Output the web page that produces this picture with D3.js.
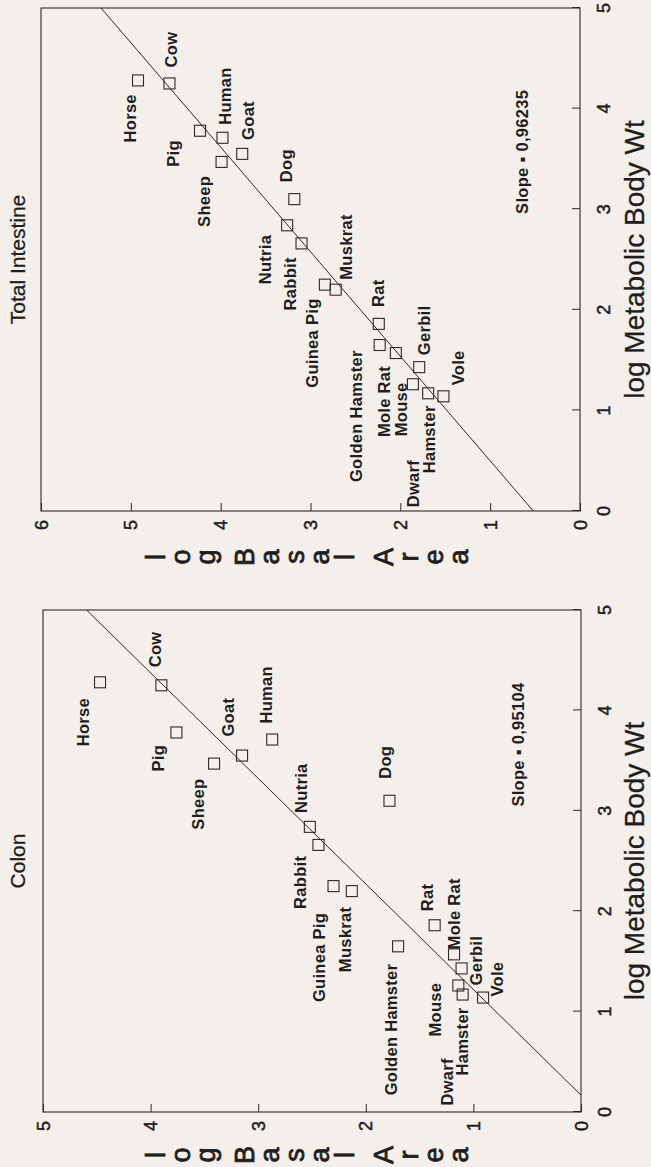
<!DOCTYPE html>
<html>
<head>
<meta charset="utf-8">
<script src="https://cdn.jsdelivr.net/npm/d3@7"></script>
<style>
  html, body { margin: 0; padding: 0; background: #f4efea; }
  svg { display: block; }
  text { font-family: "Liberation Sans", Arial, Helvetica, sans-serif; fill: #1e1e1e; }
</style>
</head>
<body>
<svg id="chart" width="651" height="1167"></svg>
<script>
// ---------------- DATA ----------------
const animals = ["Horse","Cow","Pig","Sheep","Goat","Human","Dog","Nutria","Rabbit",
  "Guinea Pig","Muskrat","Rat","Golden Hamster","Mole Rat","Gerbil","Mouse","Dwarf Hamster","Vole"];
const logMetabolicBodyWt = [4.28,4.25,3.78,3.47,3.55,3.71,3.10,2.84,2.66,2.25,2.20,1.86,1.65,1.57,1.43,1.26,1.17,1.14];
const colonLogBasalArea = [4.47,3.90,3.76,3.41,3.15,2.87,1.78,2.52,2.44,2.30,2.13,1.36,1.70,1.18,1.11,1.14,1.10,0.91];
const intestineLogBasalArea = [4.92,4.57,4.23,3.99,3.76,3.98,3.18,3.26,3.10,2.84,2.72,2.24,2.23,2.05,1.79,1.86,1.69,1.52];
const xTicks = [0,1,2,3,4,5];
const colonYTicks = [0,1,2,3,4,5];
const intestineYTicks = [0,1,2,3,4,5,6];
const colonFit = {slope: 0.95104, intercept: -0.16};
const intestineFit = {slope: 0.96235, intercept: 0.52};
const colonSlopeText = "Slope \u25AA 0,95104";
const intestineSlopeText = "Slope \u25AA 0,96235";
const xTitle = "log Metabolic Body Wt";
const yTitle = "log Basal Area";

// ---------------- LAYOUT (label placement, px offsets from point) ----------------
const colonLabelOffsets = {
  "Horse":[[-64,-11]], "Cow":[[18,0]], "Pig":[[-39,-12]], "Sheep":[[-66,-10]], "Goat":[[19,-8]],
  "Human":[[16,0]], "Dog":[[22,2]], "Nutria":[[14,-3]], "Rabbit":[[-64,-12]], "Guinea Pig":[[-116,-9]],
  "Muskrat":[[-81,-1]], "Rat":[[14,-2]], "Golden Hamster":[[-149,-1]], "Mole Rat":[[5,6]],
  "Gerbil":[[-17,20]], "Mouse":[[-51,-17]], "Dwarf Hamster":[[-111,-10],[-81,5]], "Vole":[[1,20]]
};
const intestineLabelOffsets = {
  "Horse":[[-62,-2]], "Cow":[[16,8]], "Pig":[[-36,-21]], "Sheep":[[-65,-12]], "Goat":[[14,12]],
  "Human":[[13,9]], "Dog":[[17,-2]], "Nutria":[[-59,-16]], "Rabbit":[[-67,-6]], "Guinea Pig":[[-103,-7]],
  "Muskrat":[[10,16]], "Rat":[[17,5]], "Golden Hamster":[[-137,-18]], "Mole Rat":[[-84,-6]],
  "Gerbil":[[12,11]], "Mouse":[[-52,-6]], "Dwarf Hamster":[[-114,-9],[-80,7]], "Vole":[[11,21]]
};

const svg = d3.select("#chart");
// the whole page is rotated a quarter turn counter-clockwise
const root = svg.append("g").attr("transform", "translate(0,1167) rotate(-90)");

function panel(opt) {
  const g = root.append("g");
  const x = d3.scaleLinear().domain([0, 5]).range([opt.left, opt.right]);
  const y = d3.scaleLinear().domain([0, opt.yMax]).range([opt.bottom, opt.top]);
  const ink = "#2a2a2a";

  // frame
  g.append("rect").attr("x", opt.left).attr("y", opt.top)
    .attr("width", opt.right - opt.left).attr("height", opt.bottom - opt.top)
    .attr("fill", "none").attr("stroke", ink).attr("stroke-width", 1.1);

  // x axis (ticks inward, labels drawn separately)
  const xa = g.append("g").attr("transform", `translate(0,${opt.bottom})`)
    .call(d3.axisBottom(x).tickValues(xTicks).tickSizeInner(-8).tickSizeOuter(0).tickFormat(() => ""));
  xa.select(".domain").remove();
  xa.selectAll("line").attr("stroke", ink);
  g.append("g").selectAll("text").data(xTicks).join("text")
    .attr("x", d => x(d)).attr("y", opt.bottom + 30)
    .attr("text-anchor", "middle").attr("font-size", 18)
    .attr("stroke", "#1e1e1e").attr("stroke-width", 0.5).text(d => d);

  // y axis (ticks inward, labels drawn separately)
  const ya = g.append("g").attr("transform", `translate(${opt.left},0)`)
    .call(d3.axisLeft(y).tickValues(opt.yTicks).tickSizeInner(-8).tickSizeOuter(0).tickFormat(() => ""));
  ya.select(".domain").remove();
  ya.selectAll("line").attr("stroke", ink);
  g.append("g").selectAll("text").data(opt.yTicks).join("text")
    .attr("x", opt.left - 9).attr("y", d => y(d) + 6.5)
    .attr("text-anchor", "end").attr("font-size", 18)
    .attr("stroke", "#1e1e1e").attr("stroke-width", 0.5).text(d => d);

  // clip for regression line
  const clipId = "clip-" + opt.id;
  g.append("clipPath").attr("id", clipId).append("rect")
    .attr("x", opt.left).attr("y", opt.top).attr("width", opt.right - opt.left).attr("height", opt.bottom - opt.top);

  const fitPts = [0, 5].map(v => [v, opt.fit.slope * v + opt.fit.intercept]);
  g.append("path").attr("clip-path", `url(#${clipId})`)
    .attr("d", d3.line().x(d => x(d[0])).y(d => y(d[1]))(fitPts))
    .attr("fill", "none").attr("stroke", ink).attr("stroke-width", 1);

  // points
  const data = animals.map((name, i) => ({name, x: logMetabolicBodyWt[i], y: opt.values[i]}));
  const s = 11;
  g.selectAll("rect.pt").data(data).join("rect").attr("class", "pt")
    .attr("x", d => x(d.x) - s / 2).attr("y", d => y(d.y) - s / 2)
    .attr("width", s).attr("height", s)
    .attr("fill", "none").attr("stroke", ink).attr("stroke-width", 1.1);

  // labels
  data.forEach(d => {
    const parts = d.name === "Dwarf Hamster" ? ["Dwarf", "Hamster"] : [d.name];
    const offs = opt.labelOffsets[d.name];
    parts.forEach((p, k) => {
      g.append("text").attr("x", x(d.x) + offs[k][0]).attr("y", y(d.y) + offs[k][1])
        .attr("font-size", 16.5).attr("font-weight", "bold").attr("letter-spacing", 0.3).text(p);
    });
  });

  // slope annotation
  g.append("text").attr("x", x(opt.slopePos[0])).attr("y", y(opt.slopePos[1]))
    .attr("text-anchor", "middle").attr("font-size", 16.5).attr("font-weight", "bold")
    .attr("letter-spacing", 0.3).text(opt.slopeText);

  // title
  g.append("text").attr("x", (opt.left + opt.right) / 2).attr("y", 25)
    .attr("text-anchor", "middle").attr("font-size", 21)
    .attr("stroke", "#1e1e1e").attr("stroke-width", 0.3).text(opt.title);

  // x title
  g.append("text").attr("x", (opt.left + opt.right) / 2).attr("y", 644)
    .attr("text-anchor", "middle").attr("font-size", 28)
    .attr("stroke", "#1e1e1e").attr("stroke-width", 0.3).text(xTitle);

  // y title as stacked letters
  let base = 165;
  const yt = g.append("g");
  yTitle.split("").forEach((ch, i) => {
    if (ch === " ") { base += 14; return; }
    yt.append("text").attr("x", opt.yTitleX).attr("y", base)
      .attr("text-anchor", "middle").attr("font-size", 27)
      .attr("stroke", "#1e1e1e").attr("stroke-width", 0.8).text(ch);
    base += 25;
  });
}

panel({id: "colon", title: "Colon", left: 55, right: 557, top: 43, bottom: 581, yMax: 5,
  yTicks: colonYTicks, values: colonLogBasalArea, fit: colonFit, labelOffsets: colonLabelOffsets,
  slopeText: colonSlopeText, slopePos: [3.66, 0.53], yTitleX: 12});
panel({id: "intestine", title: "Total Intestine", left: 656, right: 1159, top: 41, bottom: 580, yMax: 6,
  yTicks: intestineYTicks, values: intestineLogBasalArea, fit: intestineFit, labelOffsets: intestineLabelOffsets,
  slopeText: intestineSlopeText, slopePos: [3.57, 0.58], yTitleX: 610});
</script>
</body>
</html>
